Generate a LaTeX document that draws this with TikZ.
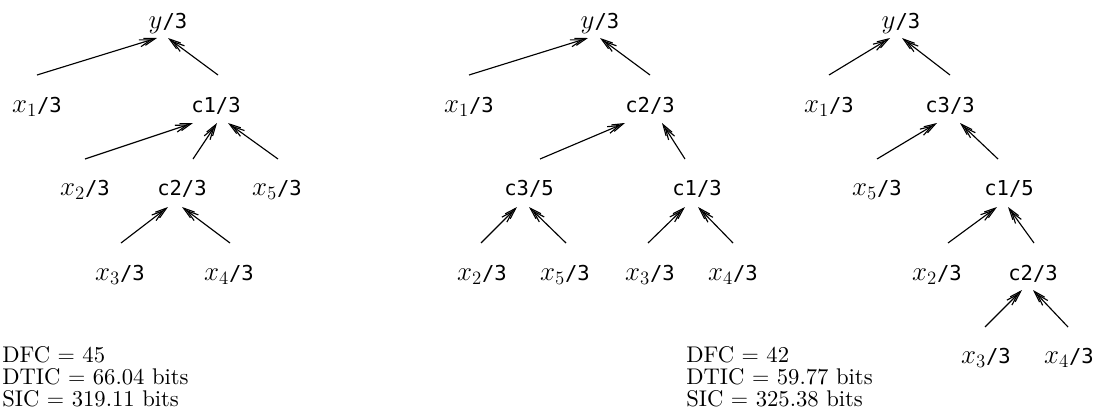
\RequirePackage{fix-cm}
\documentclass[tikz,border=0pt]{standalone}
\usepackage{fontspec}
\newfontfamily\labfamily{DejaVu Sans Mono}
\newfontfamily\statfamily{lmroman10-regular}[Extension=.otf]
\usetikzlibrary{arrows.meta,calc}
\newcommand\mth[1]{{\fontsize{19}{20}\selectfont$#1$}}
\tikzset{
  lbl/.style={anchor=base, inner sep=0pt, font=\labfamily\fontsize{14.5}{16}\selectfont},
  arr/.style={line width=0.8pt, -{Straight Barb[length=8pt,width=5pt,sep=-6.5pt]Straight Barb[length=8pt,width=5pt]}},
  stat/.style={anchor=base west, inner sep=0pt, font=\statfamily\fontsize{16}{18}\selectfont}
}
\begin{document}
\begin{tikzpicture}[x=0.706pt,y=-0.706pt]
\useasboundingbox (0,0) rectangle (1099,417);
% ---------- tree 1 ----------
\node[lbl] (ay)  at (168,28)  {\mth{y}/3};
\node[lbl] (ax1) at (37,112)  {\mth{x_1}/3};
\node[lbl] (ac1) at (216,112) {c1/3};
\node[lbl] (ax2) at (85,195)  {\mth{x_2}/3};
\node[lbl] (ac2) at (182,195) {c2/3};
\node[lbl] (ax5) at (277,195) {\mth{x_5}/3};
\node[lbl] (ax3) at (120,280) {\mth{x_3}/3};
\node[lbl] (ax4) at (229,280) {\mth{x_4}/3};
\draw[arr] ($(ax1.base)+(0,-37)$) -- ($(ay.base)+(-11,10)$);
\draw[arr] ($(ac1.base)+(2,-37)$) -- ($(ay.base)+(0,10)$);
\draw[arr] ($(ax2.base)+(0,-36)$) -- ($(ac1.base)+(-23,11)$);
\draw[arr] ($(ac2.base)+(11,-36)$) -- ($(ac1.base)+(1,11)$);
\draw[arr] ($(ax5.base)+(1,-36)$) -- ($(ac1.base)+(12,11)$);
\draw[arr] ($(ax3.base)+(1,-37)$) -- ($(ac2.base)+(-14,12)$);
\draw[arr] ($(ax4.base)+(1,-37)$) -- ($(ac2.base)+(0,12)$);
% ---------- tree 2 ----------
\node[lbl] (by)  at (600,28)  {\mth{y}/3};
\node[lbl] (bx1) at (469,112) {\mth{x_1}/3};
\node[lbl] (bc2) at (650,112) {c2/3};
\node[lbl] (bc3) at (529,195) {c3/5};
\node[lbl] (bc1) at (697,195) {c1/3};
\node[lbl] (bx2) at (482,280) {\mth{x_2}/3};
\node[lbl] (bx5) at (565,280) {\mth{x_5}/3};
\node[lbl] (bx3) at (650,280) {\mth{x_3}/3};
\node[lbl] (bx4) at (733,280) {\mth{x_4}/3};
\draw[arr] ($(bx1.base)+(0,-37)$) -- ($(by.base)+(-12,10)$);
\draw[arr] ($(bc2.base)+(0,-37)$) -- ($(by.base)+(0,10)$);
\draw[arr] ($(bc3.base)+(11,-36)$) -- ($(bc2.base)+(-25,11)$);
\draw[arr] ($(bc1.base)+(-12,-36)$) -- ($(bc2.base)+(12,11)$);
\draw[arr] ($(bx2.base)+(-1,-37)$) -- ($(bc3.base)+(-12,12)$);
\draw[arr] ($(bx5.base)+(1,-37)$) -- ($(bc3.base)+(0,12)$);
\draw[arr] ($(bx3.base)+(-2,-37)$) -- ($(bc1.base)+(-12,12)$);
\draw[arr] ($(bx4.base)+(0,-37)$) -- ($(bc1.base)+(1,12)$);
% ---------- tree 3 ----------
\node[lbl] (cy)  at (901,28)  {\mth{y}/3};
\node[lbl] (cx1) at (829,112) {\mth{x_1}/3};
\node[lbl] (cc3) at (950,112) {c3/3};
\node[lbl] (cx5) at (877,195) {\mth{x_5}/3};
\node[lbl] (cc1) at (1009,195) {c1/5};
\node[lbl] (cx2) at (937,280) {\mth{x_2}/3};
\node[lbl] (cc2) at (1033,280) {c2/3};
\node[lbl] (cx3) at (986,363) {\mth{x_3}/3};
\node[lbl] (cx4) at (1069,363) {\mth{x_4}/3};
\draw[arr] ($(cx1.base)+(0,-37)$) -- ($(cy.base)+(-11,10)$);
\draw[arr] ($(cc3.base)+(0,-37)$) -- ($(cy.base)+(1,10)$);
\draw[arr] ($(cx5.base)+(0,-36)$) -- ($(cc3.base)+(-13,11)$);
\draw[arr] ($(cc1.base)+(-11,-36)$) -- ($(cc3.base)+(10,11)$);
\draw[arr] ($(cx2.base)+(11,-37)$) -- ($(cc1.base)+(-12,12)$);
\draw[arr] ($(cc2.base)+(1,-37)$) -- ($(cc1.base)+(-1,12)$);
\draw[arr] ($(cx3.base)+(-1,-36)$) -- ($(cc2.base)+(-11,10)$);
\draw[arr] ($(cx4.base)+(-1,-36)$) -- ($(cc2.base)+(0,10)$);
% ---------- statistics ----------
\node[stat] (s1a) at (2,362) {DFC $=$ 45};
\node[stat] (s1b) at (2,384) {DTIC $=$ 66.04 bits};
\node[stat] (s1c) at (2,406) {SIC $=$ 319.11 bits};
\node[stat] (s2a) at (686,362) {DFC $=$ 42};
\node[stat] (s2b) at (686,384) {DTIC $=$ 59.77 bits};
\node[stat] (s2c) at (686,406) {SIC $=$ 325.38 bits};
\end{tikzpicture}
\end{document}
